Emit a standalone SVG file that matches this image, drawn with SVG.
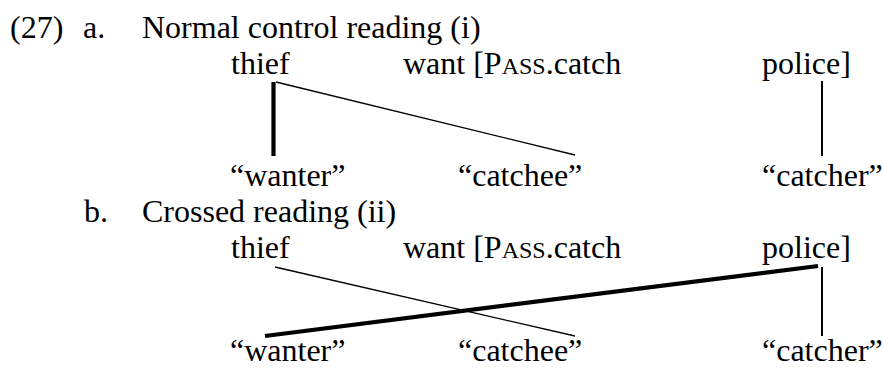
<svg xmlns="http://www.w3.org/2000/svg" width="883" height="369" viewBox="0 0 883 369">
<style>
text{font-family:"Liberation Serif","Times New Roman",serif;font-size:32px;fill:#000}
.sc{font-size:24px}
.thin{stroke:#000;stroke-width:1.3;fill:none}
.mid{stroke:#000;stroke-width:2;fill:none}
.thick{stroke:#000;stroke-width:4.2;fill:none}
</style>
<rect width="883" height="369" fill="#fff"/>
<g id="header-a">
<text x="10" y="38">(27)</text>
<text x="83" y="38">a.</text>
<text x="142" y="38">Normal control reading (i)</text>
</g>
<g id="a-thief"><text x="231" y="74">thief</text></g>
<g id="a-want"><text x="403" y="74">want [P<tspan class="sc">ASS</tspan>.catch</text></g>
<g id="a-police"><text x="762" y="74">police]</text></g>
<g id="a-wanter"><text x="230" y="186">“wanter”</text></g>
<g id="a-catchee"><text x="458" y="186">“catchee”</text></g>
<g id="a-catcher"><text x="762" y="186">“catcher”</text></g>
<g id="header-b">
<text x="84" y="222">b.</text>
<text x="142" y="222">Crossed reading (ii)</text>
</g>
<g id="b-thief"><text x="231" y="258">thief</text></g>
<g id="b-want"><text x="403" y="258">want [P<tspan class="sc">ASS</tspan>.catch</text></g>
<g id="b-police"><text x="762" y="258">police]</text></g>
<g id="b-wanter"><text x="230" y="361">“wanter”</text></g>
<g id="b-catchee"><text x="458" y="361">“catchee”</text></g>
<g id="b-catcher"><text x="762" y="361">“catcher”</text></g>
<g id="connectors">
<line class="thick" x1="273.5" y1="82" x2="273.5" y2="156"/>
<line class="thin" x1="276" y1="82" x2="575" y2="155"/>
<line class="mid" x1="822" y1="81" x2="822" y2="156"/>
<line class="thin" x1="275" y1="267" x2="575" y2="336"/>
<line class="thick" x1="265" y1="336" x2="818" y2="266"/>
<line class="mid" x1="822" y1="267" x2="822" y2="336"/>
</g>
</svg>
